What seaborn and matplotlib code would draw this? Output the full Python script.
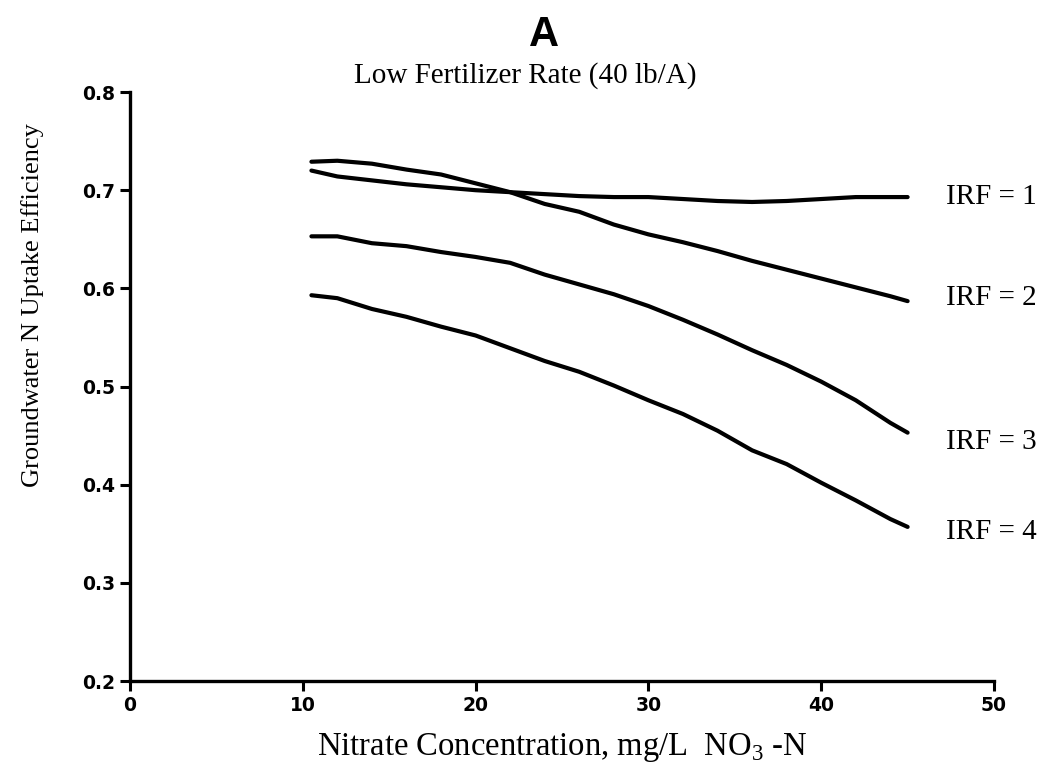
import matplotlib
matplotlib.use("Agg")
import matplotlib.pyplot as plt
import seaborn as sns
import pandas as pd

# ---- data ----
x_vals = [10.5, 12, 14, 16, 18, 20, 22, 24, 26, 28, 30, 32, 34, 36, 38, 40, 42, 44, 45]
irf1 = [0.720, 0.714, 0.710, 0.706, 0.703, 0.700, 0.698, 0.696, 0.694, 0.693, 0.693,
        0.691, 0.689, 0.688, 0.689, 0.691, 0.693, 0.693, 0.693]
irf2 = [0.729, 0.730, 0.727, 0.721, 0.716, 0.707, 0.698, 0.686, 0.678, 0.665, 0.655,
        0.647, 0.638, 0.628, 0.619, 0.610, 0.601, 0.592, 0.587]
irf3 = [0.653, 0.653, 0.646, 0.643, 0.637, 0.632, 0.626, 0.614, 0.604, 0.594, 0.582,
        0.568, 0.553, 0.537, 0.522, 0.505, 0.486, 0.463, 0.453]
irf4 = [0.593, 0.590, 0.579, 0.571, 0.561, 0.552, 0.539, 0.526, 0.515, 0.501, 0.486,
        0.472, 0.455, 0.435, 0.421, 0.402, 0.384, 0.365, 0.357]
series_names = ["IRF = 1", "IRF = 2", "IRF = 3", "IRF = 4"]
label_y = [0.693, 0.590, 0.4435, 0.352]
x_ticks = [0, 10, 20, 30, 40, 50]
y_ticks = [0.2, 0.3, 0.4, 0.5, 0.6, 0.7, 0.8]

title = "A"
subtitle = "Low Fertilizer Rate (40 lb/A)"
xlabel = "Nitrate Concentration, mg/L  NO$_3$ -N"
ylabel = "Groundwater N Uptake Efficiency"

rows = []
for name, vals in zip(series_names, [irf1, irf2, irf3, irf4]):
    for xv, yv in zip(x_vals, vals):
        rows.append({"x": xv, "y": yv, "series": name})
df = pd.DataFrame(rows)

sns.set_style("ticks")
plt.rcParams["font.family"] = ["Liberation Serif", "DejaVu Serif"]
plt.rcParams["mathtext.fontset"] = "custom"
plt.rcParams["mathtext.rm"] = "Liberation Serif"
for k in ["text.color", "axes.labelcolor", "xtick.color", "ytick.color", "axes.edgecolor"]:
    plt.rcParams[k] = "black"

fig = plt.figure(figsize=(10.55, 7.76), dpi=100)
ax = fig.add_axes([0.1232, 0.1224, 0.8190, 0.7590])

sns.lineplot(data=df, x="x", y="y", hue="series",
             palette=["black"] * 4, linewidth=3.0, legend=False, ax=ax)

ax.set_xlim(0, 50)
ax.set_ylim(0.2, 0.8)
ax.set_xticks(x_ticks)
ax.set_yticks(y_ticks)
tick_font = dict(family=["DejaVu Sans"], fontsize=13.5, fontweight="bold")
ax.set_xticklabels([str(t) for t in x_ticks], **tick_font)
ax.set_yticklabels([f"{t:.1f}" for t in y_ticks], **tick_font)
ax.tick_params(axis="both", direction="out", width=2.2, length=7.5, color="black", pad=3)

for s in ["top", "right"]:
    ax.spines[s].set_visible(False)
for s in ["left", "bottom"]:
    ax.spines[s].set_linewidth(2.4)
    ax.spines[s].set_color("black")

ax.set_xlabel(xlabel, fontsize=23.5, labelpad=12)
ax.set_ylabel(ylabel, fontsize=19)
ax.yaxis.set_label_coords(-0.100, 0.638)

for name, ly in zip(series_names, label_y):
    ax.text(47.2, ly, name, fontsize=21, va="center", ha="left", clip_on=False)

fig.text(0.516, 0.955, title, fontsize=30, fontweight="bold",
         family=["Liberation Sans", "DejaVu Sans"], ha="center", va="center")
fig.text(0.498, 0.903, subtitle, fontsize=21, ha="center", va="center")

fig.savefig("out.png", dpi=100)
